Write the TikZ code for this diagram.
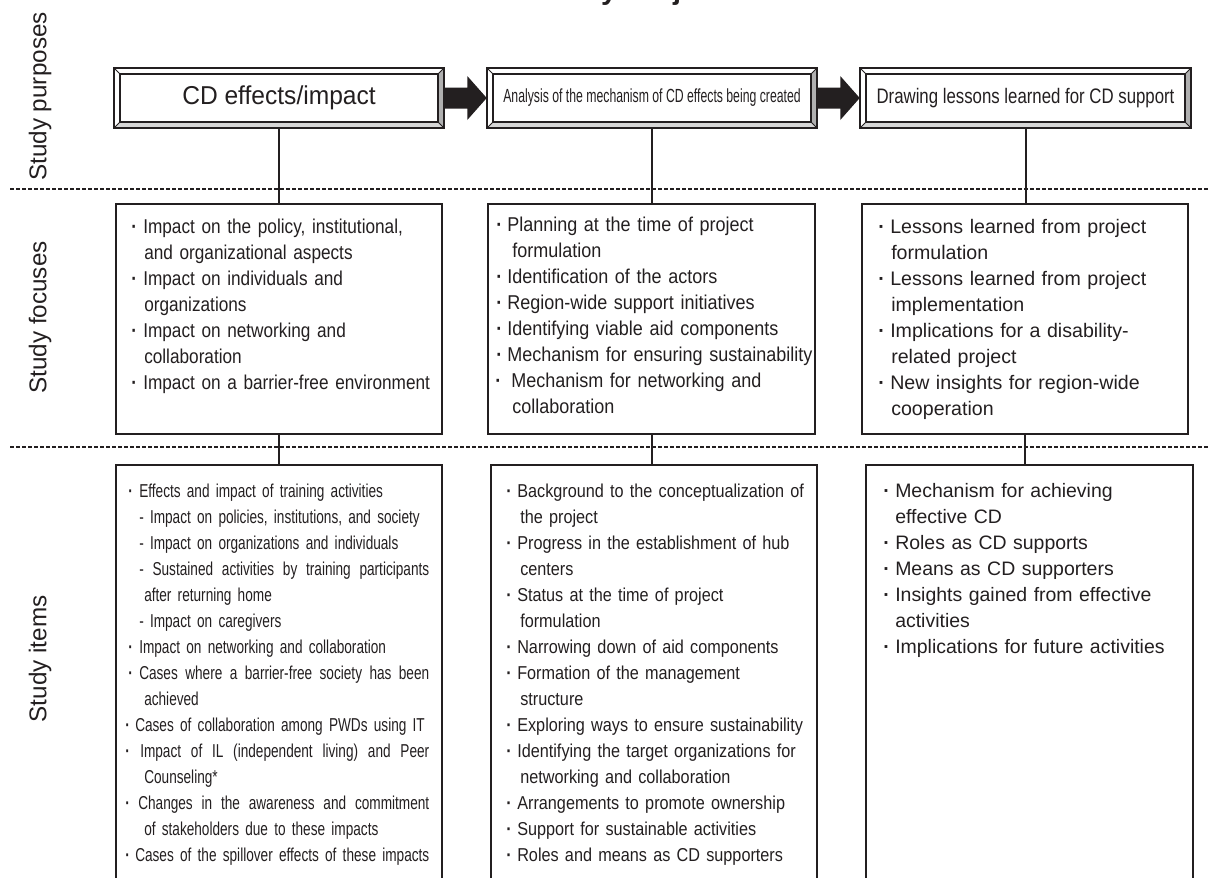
\documentclass[tikz,border=0pt]{standalone}
\usepackage{fontspec}
\usetikzlibrary{calc}
\setmainfont{Liberation Sans}
\newfontfamily\fReg{Liberation Sans}
\newfontfamily\fNarA{Liberation Sans}[FakeStretch=0.86]
\newfontfamily\fNarB{Liberation Sans}[FakeStretch=0.9]
\newfontfamily\fNarC{Liberation Sans}[FakeStretch=0.73]
\newfontfamily\fNarD{Liberation Sans}[FakeStretch=0.87]
\newfontfamily\fNarE{Liberation Sans}[FakeStretch=0.645]
\newfontfamily\fNarF{Liberation Sans}[FakeStretch=0.8]
\newfontfamily\fNarG{Liberation Sans}[FakeStretch=0.95]

\definecolor{ink}{HTML}{231F20}
\definecolor{bevelside}{HTML}{B0B0B0}
\definecolor{bevelfoot}{HTML}{D6D6D6}

% one drawing unit = one pixel of the final sheet
\newlength\pxu \setlength\pxu{0.75pt}
% bullet line: offset, bullet width, text
\newcommand\bl[3]{\hspace*{#1\pxu}\makebox[#2\pxu][l]{\bfseries ·}#3}
% continuation line: offset, text
\newcommand\ct[2]{\hspace*{#1\pxu}#2}
% line spread to a given width (word spaces share the slack)
\newcommand\js[2]{\hbox to #1\pxu{\spaceskip=\fontdimen2\font plus 1fil\relax #2}}

\tikzset{
  topbox/.style={minimum width=330\pxu, minimum height=60\pxu, inner sep=0pt, text=ink},
  frame/.style={draw=ink, line width=1.6\pxu},
  diag/.style={draw=ink, line width=1\pxu},
  panel/.style={draw=ink, line width=2\pxu, anchor=north west, inner sep=0pt},
  txt/.style={anchor=base west, inner sep=0pt, text width=360\pxu, align=left, text=ink},
  conn/.style={draw=ink, line width=2\pxu},
  sep/.style={draw=ink, line width=1.5\pxu, dash pattern=on 3.5\pxu off 2.5\pxu},
  lbl/.style={rotate=90, inner sep=0pt, text=ink, font=\fReg\fontsize{18.2}{21}\selectfont},
  blockarrow/.style={fill=ink},
}

\begin{document}
\begin{tikzpicture}[x=0.75pt, y=-0.75pt]
\useasboundingbox (0,0) rectangle (1208,878);
\clip (0,0) rectangle (1208,878);

% heading, cut by the top edge
\node[anchor=base, inner sep=0pt, text=ink, font=\fReg\bfseries\fontsize{21.6}{26}\selectfont] (title) at (630,-0.5) {Study Project};

% row labels
\node[lbl] (lp) at (40,96.5) {Study purposes};
\node[lbl] (lf) at (40,317.5) {Study focuses};
\node[lbl] (li) at (40,659) {Study items};

% row separators
\draw[sep] (10,189) -- (1208,189);
\draw[sep] (10,447) -- (1208,447);

% study purposes
\node[topbox, font=\fNarG\fontsize{19.4}{22}\selectfont] (t1) at (279,98) {CD effects/impact};
\node[topbox, font=\fNarE\fontsize{14.25}{17}\selectfont] (t2) at (652,98) {Analysis of the mechanism of CD effects being created};
\node[topbox, minimum width=331\pxu, font=\fNarF\fontsize{15.75}{19}\selectfont] (t3) at (1025.5,98) {Drawing lessons learned for CD support};

\foreach \n in {t1,t2,t3}{
  \fill[bevelside] (\n.north east) -- (\n.south east) -- ($(\n.south east)+(-6,-6)$) -- ($(\n.north east)+(-6,6)$) -- cycle;
  \fill[bevelfoot] (\n.south west) -- (\n.south east) -- ($(\n.south east)+(-6,-6)$) -- ($(\n.south west)+(6,-6)$) -- cycle;
  \draw[frame] (\n.north west) rectangle (\n.south east);
  \draw[frame] ($(\n.north west)+(6,6)$) rectangle ($(\n.south east)+(-6,-6)$);
  \draw[diag] (\n.north west) -- ++(6,6);
  \draw[diag] (\n.north east) -- ++(-6,6);
  \draw[diag] (\n.south west) -- ++(6,-6);
  \draw[diag] (\n.south east) -- ++(-6,-6);
}

% block arrows between the purposes
\fill[blockarrow] ($(t1.east)+(0,-10.5)$) -- ($(t1.east)+(23,-10.5)$) -- ($(t1.east)+(23,-22)$) -- (t2.west)
  -- ($(t1.east)+(23,22)$) -- ($(t1.east)+(23,10.5)$) -- ($(t1.east)+(0,10.5)$) -- cycle;
\fill[blockarrow] ($(t2.east)+(0,-10.5)$) -- ($(t2.east)+(23,-10.5)$) -- ($(t2.east)+(23,-22)$) -- (t3.west)
  -- ($(t2.east)+(23,22)$) -- ($(t2.east)+(23,10.5)$) -- ($(t2.east)+(0,10.5)$) -- cycle;

% study focuses
\node[panel, minimum width=326\pxu, minimum height=230\pxu] (f1) at (115,203) {};
\node[panel, minimum width=327\pxu, minimum height=230\pxu] (f2) at (487,203) {};
\node[panel, minimum width=326\pxu, minimum height=230\pxu] (f3) at (861,203) {};

% study items (running on past the lower edge)
\node[panel, minimum width=326\pxu, minimum height=440\pxu] (i1) at (115,464) {};
\node[panel, minimum width=326\pxu, minimum height=440\pxu] (i2) at (490,464) {};
\node[panel, minimum width=327\pxu, minimum height=440\pxu] (i3) at (865,464) {};

% vertical links
\draw[conn] (t1.south) -- (t1.south |- f1.north);
\draw[conn] (t2.south) -- (t2.south |- f2.north);
\draw[conn] (t3.south) -- (t3.south |- f3.north);
\draw[conn] (f1.south) -- (f1.south |- i1.north);
\draw[conn] (f2.south) -- (f2.south |- i2.north);
\draw[conn] (f3.south) -- (f3.south |- i3.north);

% focus texts
\node[txt, font=\fNarA\fontsize{15}{19.5}\selectfont] (f1t) at (131,233) {%
\bl{0}{12}{Impact on the policy, institutional,}\\
\ct{13}{and organizational aspects}\\
\bl{0}{12}{Impact on individuals and}\\
\ct{13}{organizations}\\
\bl{0}{12}{Impact on networking and}\\
\ct{13}{collaboration}\\
\bl{0}{12}{Impact on a barrier-free environment}};

\node[txt, font=\fNarB\fontsize{15}{19.5}\selectfont] (f2t) at (492,231) {%
\bl{4}{11}{Planning at the time of project}\\
\ct{20}{formulation}\\
\bl{4}{11}{Identification of the actors}\\
\bl{4}{11}{Region-wide support initiatives}\\
\bl{4}{11}{Identifying viable aid components}\\
\bl{4}{11}{Mechanism for ensuring sustainability}\\
\bl{3}{16}{Mechanism for networking and}\\
\ct{20}{collaboration}};

\node[txt, font=\fReg\fontsize{14.7}{19.5}\selectfont] (f3t) at (878,233) {%
\bl{0}{12}{Lessons learned from project}\\
\ct{13}{formulation}\\
\bl{0}{12}{Lessons learned from project}\\
\ct{13}{implementation}\\
\bl{0}{12}{Implications for a disability-}\\
\ct{13}{related project}\\
\bl{0}{12}{New insights for region-wide}\\
\ct{13}{cooperation}};

% item texts
\node[txt, font=\fNarC\fontsize{14}{19.5}\selectfont] (i1t) at (125,497) {%
\bl{3}{11}{Effects and impact of training activities}\\
\ct{14}{- Impact on policies, institutions, and society}\\
\ct{14}{- Impact on organizations and individuals}\\
\ct{14}{\js{290}{- Sustained activities by training participants}}\\
\ct{19}{after returning home}\\
\ct{14}{- Impact on caregivers}\\
\bl{3}{11}{Impact on networking and collaboration}\\
\bl{3}{11}{\js{290}{Cases where a barrier-free society has been}}\\
\ct{19}{achieved}\\
\bl{0}{10}{Cases of collaboration among PWDs using IT}\\
\bl{0}{15}{\js{289}{Impact of IL (independent living) and Peer}}\\
\ct{19}{Counseling*}\\
\bl{0}{13}{\js{291}{Changes in the awareness and commitment}}\\
\ct{19}{of stakeholders due to these impacts}\\
\bl{0}{10}{Cases of the spillover effects of these impacts}};

\node[txt, font=\fNarD\fontsize{14}{19.5}\selectfont] (i2t) at (506,497) {%
\bl{0}{11}{Background to the conceptualization of}\\
\ct{14}{the project}\\
\bl{0}{11}{Progress in the establishment of hub}\\
\ct{14}{centers}\\
\bl{0}{11}{Status at the time of project}\\
\ct{14}{formulation}\\
\bl{0}{11}{Narrowing down of aid components}\\
\bl{0}{11}{Formation of the management}\\
\ct{14}{structure}\\
\bl{0}{11}{Exploring ways to ensure sustainability}\\
\bl{0}{11}{Identifying the target organizations for}\\
\ct{14}{networking and collaboration}\\
\bl{0}{11}{Arrangements to promote ownership}\\
\bl{0}{11}{Support for sustainable activities}\\
\bl{0}{11}{Roles and means as CD supporters}};

\node[txt, font=\fReg\fontsize{14.6}{19.5}\selectfont] (i3t) at (883,497) {%
\bl{0}{12}{Mechanism for achieving}\\
\ct{12}{effective CD}\\
\bl{0}{12}{Roles as CD supports}\\
\bl{0}{12}{Means as CD supporters}\\
\bl{0}{12}{Insights gained from effective}\\
\ct{12}{activities}\\
\bl{0}{12}{Implications for future activities}};
\end{tikzpicture}
\end{document}
